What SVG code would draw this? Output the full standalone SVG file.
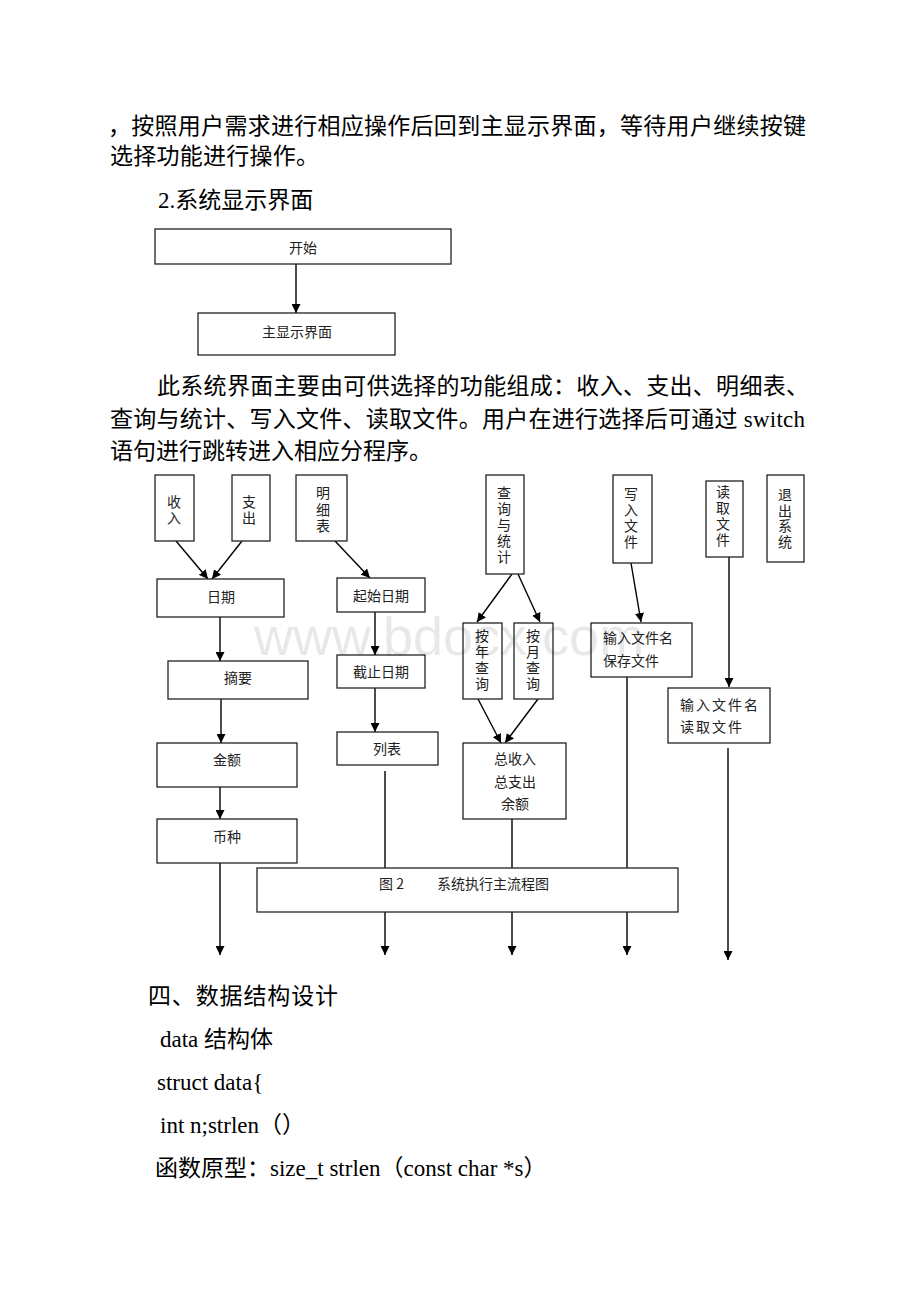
<svg xmlns="http://www.w3.org/2000/svg" width="920" height="1302" viewBox="0 0 920 1302">
<style>
.doc{font-family:"Liberation Serif","Noto Sans CJK SC",serif;font-size:23px;fill:#000}
.lbl{font-family:"Noto Sans CJK SC","Liberation Sans",sans-serif;font-size:14px;fill:#222}
.vt{font-family:"Noto Sans CJK SC","Liberation Sans",sans-serif;font-size:14px;fill:#222;writing-mode:vertical-rl;letter-spacing:2px}
.box{fill:#fff;stroke:#222;stroke-width:1.3}
.con{stroke:#000;stroke-width:1.4;fill:none}
.arr{marker-end:url(#ah)}
.wm{font-family:"Liberation Sans",Arial,sans-serif;font-size:54px;fill:#000;fill-opacity:0.09}
</style>
<defs>
<marker id="ah" viewBox="0 0 10 10" refX="10" refY="5" markerWidth="9" markerHeight="9" markerUnits="userSpaceOnUse" orient="auto"><path d="M0,0 L10,5 L0,10 z" fill="#000"/></marker>
</defs>
<rect width="920" height="1302" fill="#fff"/>

<g id="text-top">
<text class="doc" x="108" y="134" textLength="698" lengthAdjust="spacing">，按照用户需求进行相应操作后回到主显示界面，等待用户继续按键</text>
<text class="doc" x="110" y="164" textLength="209" lengthAdjust="spacing">选择功能进行操作。</text>
<text class="doc" x="158" y="208">2.系统显示界面</text>
<text class="doc" x="157" y="394" textLength="652" lengthAdjust="spacing">此系统界面主要由可供选择的功能组成：收入、支出、明细表、</text>
<text class="doc" x="110" y="427" textLength="695" lengthAdjust="spacing">查询与统计、写入文件、读取文件。用户在进行选择后可通过 switch</text>
<text class="doc" x="110" y="459">语句进行跳转进入相应分程序。</text>
</g>

<g id="connectors">
<line class="con arr" x1="296" y1="264" x2="296" y2="313"/>
<line class="con arr" x1="176" y1="541" x2="208" y2="579"/>
<line class="con arr" x1="242" y1="541" x2="212" y2="579"/>
<line class="con arr" x1="335" y1="541" x2="370" y2="578"/>
<line class="con arr" x1="220" y1="617" x2="220" y2="661"/>
<line class="con arr" x1="221" y1="699" x2="221" y2="743"/>
<line class="con arr" x1="220" y1="787" x2="220" y2="819"/>
<line class="con arr" x1="220" y1="858" x2="220" y2="955"/>
<line class="con arr" x1="375" y1="612" x2="375" y2="655"/>
<line class="con arr" x1="375" y1="688" x2="375" y2="732"/>
<line class="con arr" x1="385" y1="771" x2="385" y2="955"/>
<line class="con arr" x1="512" y1="574" x2="477" y2="622"/>
<line class="con arr" x1="518" y1="574" x2="540" y2="622"/>
<line class="con arr" x1="478" y1="699" x2="501" y2="743"/>
<line class="con arr" x1="538" y1="699" x2="505" y2="743"/>
<line class="con arr" x1="512" y1="815" x2="512" y2="955"/>
<line class="con arr" x1="631" y1="563" x2="641" y2="622"/>
<line class="con arr" x1="627" y1="677" x2="627" y2="955"/>
<line class="con arr" x1="729" y1="557" x2="729" y2="687"/>
<line class="con arr" x1="728" y1="748" x2="728" y2="960"/>
</g>

<g id="n-start"><rect class="box" x="155" y="229" width="296" height="35"/><text class="lbl" x="303" y="253" text-anchor="middle">开始</text></g>
<g id="n-main"><rect class="box" x="198" y="313" width="197" height="42"/><text class="lbl" x="297" y="337" text-anchor="middle">主显示界面</text></g>

<g id="n-income"><rect class="box" x="155" y="475" width="39" height="66"/><text class="vt" x="174" y="495">收入</text></g>
<g id="n-expense"><rect class="box" x="232" y="475" width="38" height="66"/><text class="vt" x="249" y="495">支出</text></g>
<g id="n-detail"><rect class="box" x="296" y="475" width="51" height="66"/><text class="vt" x="323" y="486" style="letter-spacing:2.5px">明细表</text></g>
<g id="n-query"><rect class="box" x="486" y="475" width="38" height="99"/><text class="vt" x="504" y="486">查询与统计</text></g>
<g id="n-write"><rect class="box" x="613" y="475" width="39" height="88"/><text class="vt" x="631" y="487">写入文件</text></g>
<g id="n-read"><rect class="box" x="706" y="481" width="37" height="76"/><text class="vt" x="723" y="485">读取文件</text></g>
<g id="n-exit"><rect class="box" x="767" y="475" width="37" height="87"/><text class="vt" x="785" y="488" style="letter-spacing:1.5px">退出系统</text></g>

<g id="n-date"><rect class="box" x="157" y="579" width="127" height="38"/><text class="lbl" x="221" y="602" text-anchor="middle">日期</text></g>
<g id="n-summary"><rect class="box" x="168" y="661" width="140" height="38"/><text class="lbl" x="238" y="683" text-anchor="middle">摘要</text></g>
<g id="n-amount"><rect class="box" x="157" y="743" width="140" height="44"/><text class="lbl" x="227" y="765" text-anchor="middle">金额</text></g>
<g id="n-currency"><rect class="box" x="157" y="819" width="140" height="44"/><text class="lbl" x="227" y="842" text-anchor="middle">币种</text></g>

<g id="n-startdate"><rect class="box" x="337" y="578" width="88" height="34"/><text class="lbl" x="381" y="601" text-anchor="middle">起始日期</text></g>
<g id="n-enddate"><rect class="box" x="337" y="655" width="88" height="33"/><text class="lbl" x="381" y="677" text-anchor="middle">截止日期</text></g>
<g id="n-list"><rect class="box" x="337" y="732" width="101" height="33"/><text class="lbl" x="387" y="754" text-anchor="middle">列表</text></g>

<g id="n-byyear"><rect class="box" x="463" y="623" width="39" height="76"/><text class="vt" x="482" y="629">按年查询</text></g>
<g id="n-bymonth"><rect class="box" x="514" y="623" width="39" height="76"/><text class="vt" x="533" y="629">按月查询</text></g>
<g id="n-total"><rect class="box" x="463" y="743" width="103" height="76"/><text class="lbl" text-anchor="middle"><tspan x="515" y="764">总收入</tspan><tspan x="515" y="787">总支出</tspan><tspan x="515" y="809">余额</tspan></text></g>

<g id="n-save"><rect class="box" x="591" y="623" width="101" height="54"/><text class="lbl"><tspan x="603" y="643">输入文件名</tspan><tspan x="603" y="666">保存文件</tspan></text></g>
<g id="n-load"><rect class="box" x="668" y="688" width="102" height="55"/><text class="lbl" letter-spacing="2"><tspan x="680" y="710">输入文件名</tspan><tspan x="680" y="732">读取文件</tspan></text></g>

<g id="n-caption"><rect class="box" x="257" y="868" width="421" height="44"/><text class="lbl" font-size="13"><tspan x="379" y="889">图 2</tspan><tspan x="437" y="889">系统执行主流程图</tspan></text></g>

<text class="wm" x="254" y="655">www.bdocx.com</text>

<g id="text-bottom">
<text class="doc" x="148" y="1004" textLength="190" lengthAdjust="spacing">四、数据结构设计</text>
<text class="doc" x="160" y="1047">data 结构体</text>
<text class="doc" x="157" y="1090">struct data{</text>
<text class="doc" x="160" y="1133">int n;strlen（）</text>
<text class="doc" x="155" y="1176">函数原型：size_t strlen（const char *s）</text>
</g>
</svg>
